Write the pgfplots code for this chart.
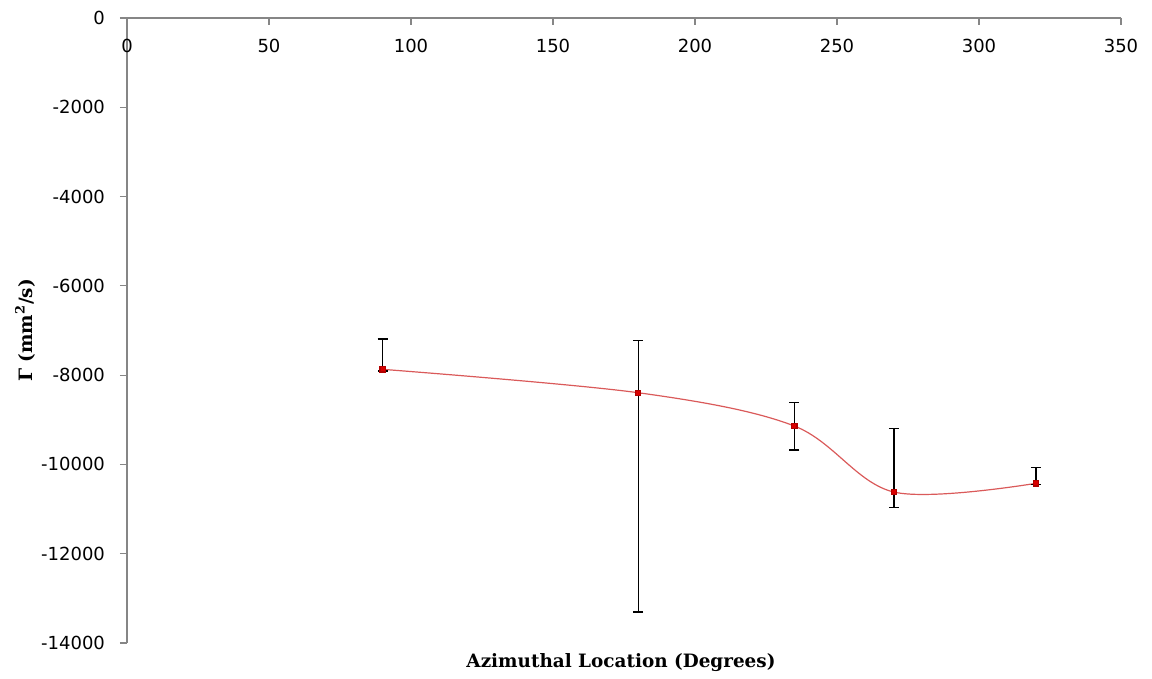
\documentclass[border=0pt]{standalone}
\usepackage{fontspec}
\setmainfont{DejaVu Sans}
\newfontfamily\labfont{DejaVu Serif}
\usepackage{pgfplots}
\pgfplotsset{compat=1.18}
\definecolor{axgray}{RGB}{134,134,134}
\definecolor{serred}{RGB}{218,90,90}
\begin{document}
\begin{tikzpicture}
\useasboundingbox (-63.5pt,-18pt) rectangle (512.5pt,321.5pt);
\begin{axis}[
  at={(0,0)}, anchor=south west,
  scale only axis, width=497pt, height=312.5pt,
  xmin=0, xmax=350, ymin=-14000, ymax=0,
  axis x line*=top, axis y line*=left,
  axis line style={axgray, line width=0.6pt},
  xtick={0,50,...,350}, ytick={-14000,-12000,...,0},
  scaled y ticks=false, scaled x ticks=false,
  major tick length=3.5pt,
  x tick style={axgray, line width=0.6pt},
  y tick style={axgray, line width=0.6pt},
  xtick align=inside, ytick align=outside,
  tick label style={font=\fontsize{9}{11}\selectfont},
  /pgf/number format/assume math mode=true,
  /pgf/number format/set thousands separator={},
  xticklabel style={anchor=north, yshift=-7pt},
  yticklabel style={anchor=east, xshift=-4pt},
  xlabel={\labfont\bfseries Azimuthal Location (Degrees)},
  ylabel={\labfont\bfseries Γ (mm\textsuperscript{2}/s)},
  xlabel style={at={(axis description cs:0.5,0)}, anchor=center, yshift=-10pt, xshift=-1.5pt, font=\fontsize{9.2}{11}\selectfont},
  ylabel style={at={(axis description cs:0,0.5)}, anchor=center, xshift=0pt, yshift=51pt, font=\fontsize{9.2}{11}\selectfont},
  clip=false,
]
\addplot[serred, line width=0.6pt, smooth, tension=0.55,
  mark=square*, mark size=1.3pt, mark options={fill=red!85!black, draw=red!70!black},
  error bars/.cd, y dir=both, y explicit,
  error bar style={black, line width=0.7pt},
  error mark options={rotate=90, mark size=2.5pt, black, line width=0.7pt}]
  table[x=x, y=y, y error plus=ep, y error minus=em] {
x   y       ep     em
90  -7870   680    40
180 -8394   1165   4912
235 -9140   523    537
270 -10618  1418   352
320 -10424  359    30
};
\end{axis}
\end{tikzpicture}
\end{document}
